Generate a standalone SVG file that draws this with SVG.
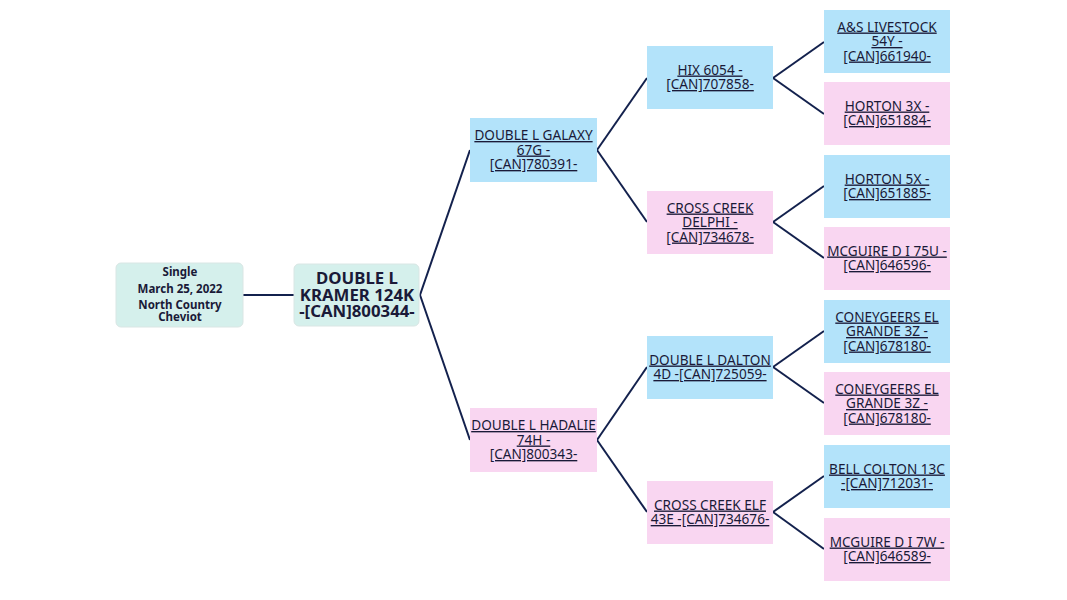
<svg xmlns="http://www.w3.org/2000/svg" width="1067" height="600" viewBox="0 0 1067 600">
<style>
.bg{fill:#ffffff}
.teal{fill:#d5f0ec;stroke:#d9e6e4;stroke-width:1}
.blue{fill:#b3e3fa}
.pink{fill:#f9d6f1}
.t{font-family:"Noto Sans","Open Sans",sans-serif;font-size:13.6px;fill:#1a1a38;text-anchor:middle;text-decoration:underline}
.main{font-family:"Noto Sans","Open Sans",sans-serif;font-size:16.8px;font-weight:bold;fill:#1a1a38;text-anchor:middle}
.info{font-family:"Noto Sans","Open Sans",sans-serif;font-size:11.5px;font-weight:bold;fill:#1a1a38;text-anchor:middle}
.c{stroke:#13214d;stroke-width:2;fill:none}
</style>
<rect class="bg" x="0" y="0" width="1067" height="600"/>
<g id="connectors">
<line class="c" x1="243" y1="295" x2="294" y2="295"/>
<line class="c" x1="420" y1="295" x2="470" y2="150"/>
<line class="c" x1="420" y1="295" x2="470" y2="440"/>
<line class="c" x1="597" y1="150" x2="647" y2="78"/>
<line class="c" x1="597" y1="150" x2="647" y2="222"/>
<line class="c" x1="597" y1="440" x2="647" y2="367"/>
<line class="c" x1="597" y1="440" x2="647" y2="512"/>
<line class="c" x1="773" y1="78" x2="824" y2="42"/>
<line class="c" x1="773" y1="78" x2="824" y2="114"/>
<line class="c" x1="773" y1="222" x2="824" y2="186"/>
<line class="c" x1="773" y1="222" x2="824" y2="258"/>
<line class="c" x1="773" y1="367" x2="824" y2="331"/>
<line class="c" x1="773" y1="367" x2="824" y2="403"/>
<line class="c" x1="773" y1="512" x2="824" y2="476"/>
<line class="c" x1="773" y1="512" x2="824" y2="549"/>
</g>
<g id="info">
<rect class="teal" x="116" y="263" width="127" height="64" rx="5"/>
<text class="info"><tspan x="180" y="276">Single</tspan><tspan x="180" y="293">March 25, 2022</tspan><tspan x="180" y="309">North Country</tspan><tspan x="180" y="321">Cheviot</tspan></text>
</g>
<g id="n-kramer">
<rect class="teal" x="294" y="264" width="125" height="62" rx="5"/>
<text class="main"><tspan x="357" y="284">DOUBLE L</tspan><tspan x="357" y="300.5">KRAMER 124K</tspan><tspan x="357" y="317">-[CAN]800344-</tspan></text>
</g>
<g id="n-galaxy">
<rect class="blue" x="470" y="118" width="127" height="64"/>
<text class="t"><tspan x="533.5" y="140">DOUBLE L GALAXY</tspan><tspan x="533.5" y="154.5">67G -</tspan><tspan x="533.5" y="169">[CAN]780391-</tspan></text>
</g>
<g id="n-hadalie">
<rect class="pink" x="470" y="408" width="127" height="64"/>
<text class="t"><tspan x="533.5" y="430">DOUBLE L HADALIE</tspan><tspan x="533.5" y="444.5">74H -</tspan><tspan x="533.5" y="459">[CAN]800343-</tspan></text>
</g>
<g id="n-hix">
<rect class="blue" x="647" y="46" width="126" height="63"/>
<text class="t"><tspan x="710" y="74.5">HIX 6054 -</tspan><tspan x="710" y="89">[CAN]707858-</tspan></text>
</g>
<g id="n-delphi">
<rect class="pink" x="647" y="191" width="126" height="63"/>
<text class="t"><tspan x="710" y="212.5">CROSS CREEK</tspan><tspan x="710" y="227">DELPHI -</tspan><tspan x="710" y="241.5">[CAN]734678-</tspan></text>
</g>
<g id="n-dalton">
<rect class="blue" x="647" y="336" width="126" height="63"/>
<text class="t"><tspan x="710" y="364.5">DOUBLE L DALTON</tspan><tspan x="710" y="379">4D -[CAN]725059-</tspan></text>
</g>
<g id="n-elf">
<rect class="pink" x="647" y="481" width="126" height="63"/>
<text class="t"><tspan x="710" y="509.5">CROSS CREEK ELF</tspan><tspan x="710" y="524">43E -[CAN]734676-</tspan></text>
</g>
<g id="n-as">
<rect class="blue" x="824" y="10" width="126" height="63"/>
<text class="t"><tspan x="887" y="31.5">A&amp;S LIVESTOCK</tspan><tspan x="887" y="46">54Y -</tspan><tspan x="887" y="60.5">[CAN]661940-</tspan></text>
</g>
<g id="n-horton3x">
<rect class="pink" x="824" y="82" width="126" height="63"/>
<text class="t"><tspan x="887" y="110.5">HORTON 3X -</tspan><tspan x="887" y="125">[CAN]651884-</tspan></text>
</g>
<g id="n-horton5x">
<rect class="blue" x="824" y="155" width="126" height="63"/>
<text class="t"><tspan x="887" y="183.5">HORTON 5X -</tspan><tspan x="887" y="198">[CAN]651885-</tspan></text>
</g>
<g id="n-mcguire75u">
<rect class="pink" x="824" y="227" width="126" height="63"/>
<text class="t"><tspan x="887" y="255.5">MCGUIRE D I 75U -</tspan><tspan x="887" y="270">[CAN]646596-</tspan></text>
</g>
<g id="n-coney1">
<rect class="blue" x="824" y="300" width="126" height="63"/>
<text class="t"><tspan x="887" y="321.5">CONEYGEERS EL</tspan><tspan x="887" y="336">GRANDE 3Z -</tspan><tspan x="887" y="350.5">[CAN]678180-</tspan></text>
</g>
<g id="n-coney2">
<rect class="pink" x="824" y="372" width="126" height="63"/>
<text class="t"><tspan x="887" y="393.5">CONEYGEERS EL</tspan><tspan x="887" y="408">GRANDE 3Z -</tspan><tspan x="887" y="422.5">[CAN]678180-</tspan></text>
</g>
<g id="n-bell">
<rect class="blue" x="824" y="445" width="126" height="63"/>
<text class="t"><tspan x="887" y="473.5">BELL COLTON 13C</tspan><tspan x="887" y="488">-[CAN]712031-</tspan></text>
</g>
<g id="n-mcguire7w">
<rect class="pink" x="824" y="518" width="126" height="63"/>
<text class="t"><tspan x="887" y="546.5">MCGUIRE D I 7W -</tspan><tspan x="887" y="561">[CAN]646589-</tspan></text>
</g>
</svg>
